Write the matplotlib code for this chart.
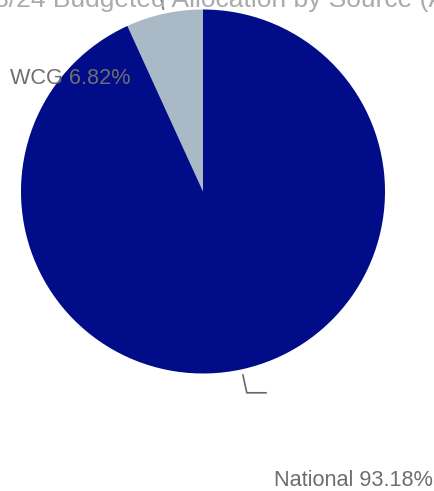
import numpy as np
import matplotlib
matplotlib.use("Agg")
import matplotlib.pyplot as plt

plt.rcParams['font.family'] = ['Liberation Sans', 'DejaVu Sans']

title = "2023/24 Budgeted Allocation by Source (AEPRE)"
sources = ["WCG", "National"]
shares = [6.82, 93.18]
colors = ["#A9B9C6", "#000C88"]

W, H = 435, 491
fig = plt.figure(figsize=(W / 100, H / 100), dpi=100)
ax = fig.add_axes([0, 0, 1, 1])

# pixel coords with y flipped (top of image = H)
cx, cy, r = 203, H - 191.5, 182

wedges, _ = ax.pie(shares, colors=colors, startangle=90, counterclock=True,
                   center=(cx, cy), radius=r, wedgeprops=dict(linewidth=0))
ax.set_xlim(0, W)
ax.set_ylim(0, H)
ax.axis("off")

# title, mostly cut off above the top edge
ax.text(-50, H - 7, title, fontsize=19, color="#ababab", ha="left", va="baseline")

def pt(angle, rad):
    a = np.deg2rad(angle)
    return cx + rad * np.cos(a), cy + rad * np.sin(a)

line_kw = dict(color="#666666", lw=1.2, solid_capstyle="butt")

# WCG leader going out of the top
mid = (wedges[0].theta1 + wedges[0].theta2) / 2
x0, y0 = pt(mid, r + 4)
x1, y1 = pt(mid, r + 20)
ax.plot([x0, x1], [y0, y1], **line_kw)
ax.text(10, H - 78, f"{sources[0]} {shares[0]:.2f}%", fontsize=15.6, color="#6e6e6e",
        ha="left", va="center")

# National leader (L shape)
mid = (wedges[1].theta1 + wedges[1].theta2) / 2
x0, y0 = pt(mid, r + 5)
x1, y1 = pt(mid, r + 24)
ax.plot([x0, x1, x1 + 20], [y0, y1, y1], **line_kw)
ax.text(433, H - 480, f"{sources[1]} {shares[1]:.2f}%", fontsize=15.6, color="#6e6e6e",
        ha="right", va="center")

fig.savefig("out.png", dpi=100)
